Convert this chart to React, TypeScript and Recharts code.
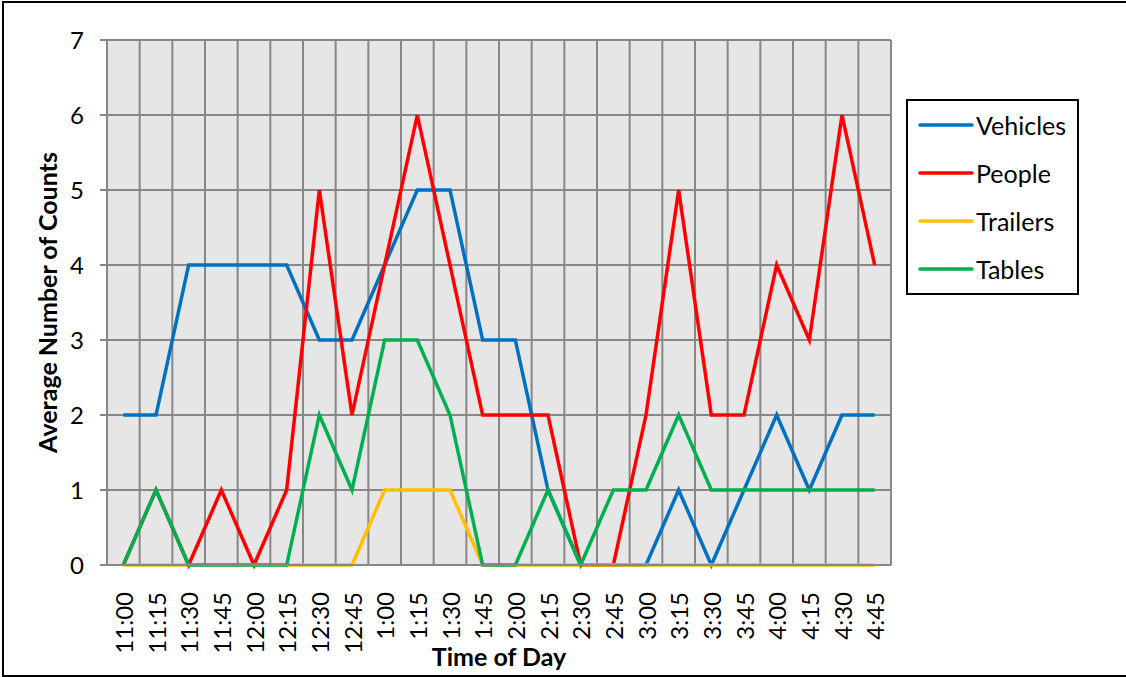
import React from 'react';
import { LineChart, Line, XAxis, YAxis, CartesianGrid, Legend } from 'recharts';

const times = ['11:00','11:15','11:30','11:45','12:00','12:15','12:30','12:45','1:00','1:15','1:30','1:45','2:00','2:15','2:30','2:45','3:00','3:15','3:30','3:45','4:00','4:15','4:30','4:45'];
const vehicles = [2,2,4,4,4,4,3,3,4,5,5,3,3,1,0,0,0,1,0,1,2,1,2,2];
const people = [0,1,0,1,0,1,5,2,4,6,4,2,2,2,0,0,2,5,2,2,4,3,6,4];
const trailers = [0,0,0,0,0,0,0,0,1,1,1,0,0,0,0,0,0,0,0,0,0,0,0,0];
const tables = [0,1,0,0,0,0,2,1,3,3,2,0,0,1,0,1,1,2,1,1,1,1,1,1];
const yTicks = [0,1,2,3,4,5,6,7];

const seriesDefs = [
  { key: 'Vehicles', color: '#0070C0', values: vehicles },
  { key: 'People', color: '#FF0000', values: people },
  { key: 'Trailers', color: '#FFC000', values: trailers },
  { key: 'Tables', color: '#00B050', values: tables },
];
const seriesOrder = seriesDefs.map((s) => s.key);

const data = times.map((t, i) => {
  const row: any = { idx: i, time: t };
  seriesDefs.forEach((s) => { row[s.key] = s.values[i]; });
  return row;
});

const xIdx = times.map((_, i) => i);
const boundaries = [...times.map((_, i) => i - 0.5), times.length - 0.5];

const FONT = 'Lato, "Open Sans", sans-serif';
const FS = 24;
const FS_T = 25;
const GRID = '#878787';

const XTick = (props: any) => {
  const { x, y, payload } = props;
  return (
    <text x={x} y={y + 19} transform={`rotate(-90, ${x}, ${y + 19})`} textAnchor="end" dominantBaseline="central" fontSize={FS} fontFamily={FONT} fill="#000">
      {times[payload.value]}
    </text>
  );
};

const YLabel = (props: any) => {
  const vb = props.viewBox || {};
  const cx = vb.x;
  const cy = vb.y + vb.height / 2;
  return (
    <text x={cx} y={cy} transform={`rotate(-90, ${cx}, ${cy})`} textAnchor="middle" dominantBaseline="central" fontSize={FS_T} fontWeight="bold" fontFamily={FONT} fill="#000">
      Average Number of Counts
    </text>
  );
};

const XLabel = (props: any) => {
  const vb = props.viewBox || {};
  return (
    <text x={vb.x + vb.width / 2} y={vb.y + vb.height + 1} textAnchor="middle" fontSize={FS_T} fontWeight="bold" fontFamily={FONT} fill="#000">
      Time of Day
    </text>
  );
};

const LegendBox = (props: any) => {
  const payload = [...(props.payload || [])].sort(
    (a: any, b: any) => seriesOrder.indexOf(a.value) - seriesOrder.indexOf(b.value)
  );
  return (
    <div style={{ width: 169, height: 192, border: '2px solid #000', background: '#fff', boxSizing: 'content-box', position: 'relative' }}>
      {payload.map((p: any, i: number) => (
        <div key={p.value} style={{ position: 'absolute', left: 10, top: 10 + i * 48, height: 28, display: 'flex', alignItems: 'center' }}>
          <svg width={56} height={6} style={{ display: 'block' }}>
            <line x1={2} y1={3} x2={54} y2={3} stroke={p.color} strokeWidth={3.5} strokeLinecap="round" />
          </svg>
          <span style={{ marginLeft: 2, fontFamily: FONT, fontSize: FS_T, color: '#000', lineHeight: '28px', whiteSpace: 'nowrap' }}>{p.value}</span>
        </div>
      ))}
    </div>
  );
};

export default function App() {
  return (
    <div style={{ position: 'absolute', left: 0, top: 0, width: 1126, height: 677, overflow: 'hidden', background: '#fff' }}>
      <div style={{ position: 'absolute', left: 2, top: 1, width: 1124, height: 676, borderTop: '2px solid #000', borderLeft: '2px solid #000', borderBottom: '2px solid #000', boxSizing: 'border-box' }} />
      <LineChart width={1126} height={677} data={data} margin={{ top: 40, right: 235, bottom: 12, left: 47 }}>
        <CartesianGrid
          fill="#E6E6E6"
          stroke={GRID}
          strokeWidth={2}
          verticalCoordinatesGenerator={(args: any) => {
            const xa = args && args.xAxis;
            if (xa && typeof xa.scale === 'function') {
              return boundaries.map((b) => xa.scale(b));
            }
            const off = args.offset;
            return boundaries.map((_, k) => off.left + (off.width * k) / times.length);
          }}
        />
        <XAxis
          dataKey="idx"
          type="number"
          domain={[-0.5, times.length - 0.5]}
          ticks={xIdx}
          interval={0}
          tick={<XTick />}
          tickLine={false}
          axisLine={{ stroke: GRID, strokeWidth: 2 }}
          height={100}
          allowDataOverflow
          label={<XLabel />}
        />
        <YAxis
          domain={[0, 7]}
          ticks={yTicks}
          interval={0}
          width={60}
          tickSize={7}
          tickMargin={16}
          tickLine={{ stroke: GRID, strokeWidth: 2 }}
          axisLine={{ stroke: GRID, strokeWidth: 2 }}
          tick={{ fontSize: FS, fontFamily: FONT, fill: '#000' }}
          label={<YLabel />}
        />
        <Legend
          layout="vertical"
          align="center"
          verticalAlign="middle"
          content={<LegendBox />}
          wrapperStyle={{ position: 'absolute', left: 906, top: 99, width: 173, height: 196 }}
        />
        {seriesDefs.map((s) => (
          <Line key={s.key} type="linear" dataKey={s.key} name={s.key} stroke={s.color} strokeWidth={3.5} dot={false} activeDot={false} isAnimationActive={false} />
        ))}
      </LineChart>
    </div>
  );
}
